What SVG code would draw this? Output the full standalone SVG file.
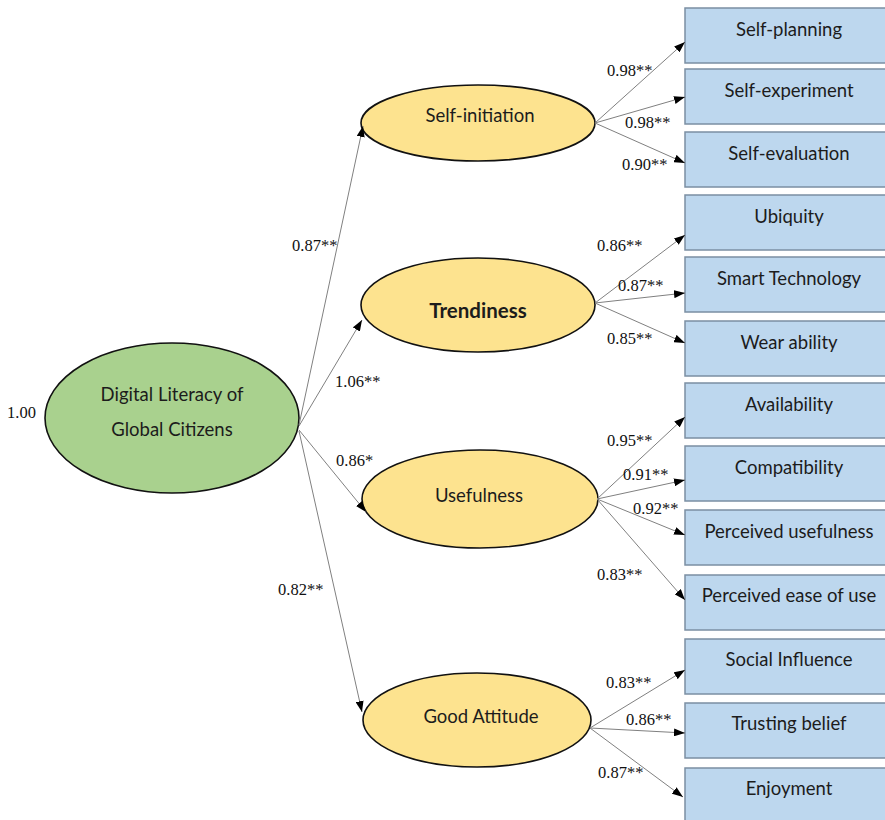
<svg xmlns="http://www.w3.org/2000/svg" width="885" height="820" viewBox="0 0 885 820">
<style>
.bg{fill:#ffffff}
.box{fill:#bdd7ee;stroke:#7b8fa3;stroke-width:1.5}
.lat{fill:#fde38f;stroke:#111;stroke-width:1.6}
.main{fill:#a9d18e;stroke:#111;stroke-width:1.6}
.t{font-family:Lato,"Liberation Sans",sans-serif;font-size:18.5px;fill:#1c1c1c;text-anchor:middle}
.tb{font-weight:bold;font-size:20.5px}
.n{font-family:"Liberation Serif","Times New Roman",serif;font-size:16.5px;fill:#111}
.c line{stroke:#808080;stroke-width:1;marker-end:url(#ah)}
</style>
<defs>
<marker id="ah" markerUnits="userSpaceOnUse" markerWidth="11" markerHeight="8" refX="11" refY="4" orient="auto">
<path d="M0,0 L11,4 L0,8 z" fill="#000"/>
</marker>
</defs>
<rect class="bg" x="0" y="0" width="885" height="820"/>
<g id="nodes-boxes">
<g id="self-planning"><rect class="box" x="685" y="8" width="215" height="55"/><text class="t" x="789" y="36">Self-planning</text></g>
<g id="self-experiment"><rect class="box" x="685" y="69" width="215" height="55"/><text class="t" x="789" y="97">Self-experiment</text></g>
<g id="self-evaluation"><rect class="box" x="685" y="132" width="215" height="55"/><text class="t" x="789" y="160">Self-evaluation</text></g>
<g id="ubiquity"><rect class="box" x="685" y="195" width="215" height="55"/><text class="t" x="789" y="223">Ubiquity</text></g>
<g id="smart-technology"><rect class="box" x="685" y="257" width="215" height="55"/><text class="t" x="789" y="285">Smart Technology</text></g>
<g id="wear-ability"><rect class="box" x="685" y="321" width="215" height="55"/><text class="t" x="789" y="349">Wear ability</text></g>
<g id="availability"><rect class="box" x="685" y="383" width="215" height="55"/><text class="t" x="789" y="411">Availability</text></g>
<g id="compatibility"><rect class="box" x="685" y="446" width="215" height="55"/><text class="t" x="789" y="474">Compatibility</text></g>
<g id="perceived-usefulness"><rect class="box" x="685" y="510" width="215" height="55"/><text class="t" x="789" y="538">Perceived usefulness</text></g>
<g id="perceived-ease"><rect class="box" x="685" y="575" width="215" height="55"/><text class="t" x="789" y="602">Perceived ease of use</text></g>
<g id="social-influence"><rect class="box" x="685" y="639" width="215" height="55"/><text class="t" x="789" y="666">Social Influence</text></g>
<g id="trusting-belief"><rect class="box" x="685" y="703" width="215" height="55"/><text class="t" x="789" y="730">Trusting belief</text></g>
<g id="enjoyment"><rect class="box" x="685" y="768" width="215" height="60"/><text class="t" x="789" y="795">Enjoyment</text></g>
</g>
<g id="digital-literacy"><ellipse class="main" cx="172" cy="418" rx="127" ry="75"/><text class="t" x="172" y="401">Digital Literacy of</text><text class="t" x="172" y="436">Global Citizens</text></g>
<g id="self-initiation"><ellipse class="lat" cx="478" cy="123" rx="117" ry="38"/><text class="t" x="480" y="122">Self-initiation</text></g>
<g id="trendiness"><ellipse class="lat" cx="478" cy="305" rx="117" ry="47"/><text class="t tb" x="478" y="318">Trendiness</text></g>
<g id="usefulness"><ellipse class="lat" cx="480" cy="499" rx="118" ry="49"/><text class="t" x="479" y="502">Usefulness</text></g>
<g id="good-attitude"><ellipse class="lat" cx="477" cy="720" rx="114" ry="47"/><text class="t" x="481" y="723">Good Attitude</text></g>
<g id="connectors" class="c">
<line x1="299" y1="425" x2="363" y2="126"/>
<line x1="299" y1="426" x2="362" y2="320"/>
<line x1="299" y1="430" x2="366" y2="512"/>
<line x1="299" y1="431" x2="362" y2="712"/>
<line x1="595" y1="123" x2="685" y2="42"/>
<line x1="595" y1="123" x2="685" y2="97"/>
<line x1="595" y1="123" x2="685" y2="163"/>
<line x1="595" y1="303" x2="685" y2="235"/>
<line x1="595" y1="303" x2="685" y2="293"/>
<line x1="595" y1="303" x2="685" y2="343"/>
<line x1="597" y1="499" x2="685" y2="417"/>
<line x1="597" y1="499" x2="685" y2="480"/>
<line x1="597" y1="499" x2="685" y2="535"/>
<line x1="597" y1="499" x2="685" y2="600"/>
<line x1="590" y1="728" x2="685" y2="670"/>
<line x1="590" y1="728" x2="685" y2="733"/>
<line x1="590" y1="728" x2="683" y2="797"/>
</g>
<g id="labels">
<text class="n" x="7" y="418">1.00</text>
<text class="n" x="292" y="251">0.87**</text>
<text class="n" x="335" y="387">1.06**</text>
<text class="n" x="336" y="466">0.86*</text>
<text class="n" x="278" y="595">0.82**</text>
<text class="n" x="607" y="76">0.98**</text>
<text class="n" x="625" y="128">0.98**</text>
<text class="n" x="622" y="170">0.90**</text>
<text class="n" x="597" y="251">0.86**</text>
<text class="n" x="618" y="291">0.87**</text>
<text class="n" x="607" y="344">0.85**</text>
<text class="n" x="607" y="446">0.95**</text>
<text class="n" x="623" y="480">0.91**</text>
<text class="n" x="633" y="514">0.92**</text>
<text class="n" x="597" y="580">0.83**</text>
<text class="n" x="606" y="688">0.83**</text>
<text class="n" x="626" y="725">0.86**</text>
<text class="n" x="598" y="778">0.87**</text>
</g>
</svg>
